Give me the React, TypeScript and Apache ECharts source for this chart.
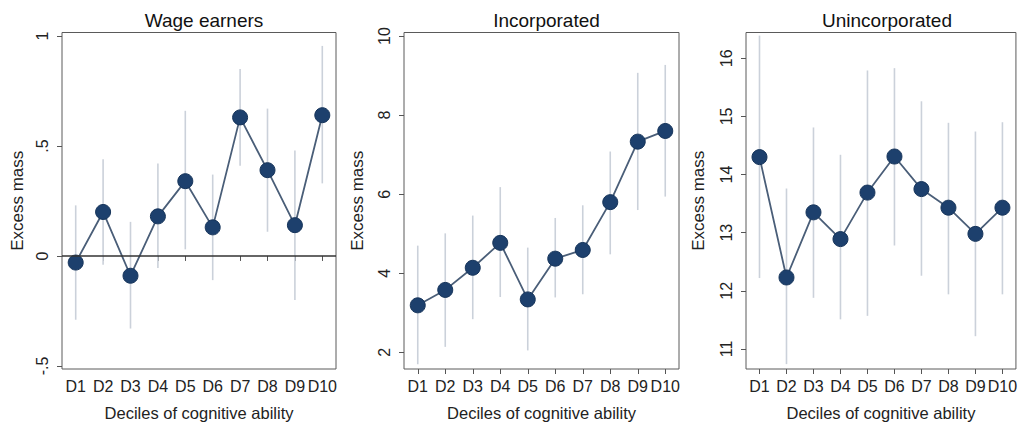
import React, { useEffect, useRef } from "react";
import * as echarts from "echarts";

const deciles = ["D1", "D2", "D3", "D4", "D5", "D6", "D7", "D8", "D9", "D10"];

const panelTitles = ["Wage earners", "Incorporated", "Unincorporated"];

const wageValues = [-0.03, 0.2, -0.09, 0.18, 0.34, 0.13, 0.63, 0.39, 0.14, 0.64];
const wageLow = [-0.29, -0.04, -0.33, -0.055, 0.03, -0.11, 0.41, 0.11, -0.2, 0.33];
const wageHigh = [0.23, 0.44, 0.155, 0.42, 0.66, 0.37, 0.85, 0.67, 0.48, 0.955];
const wageTicks = [-0.5, 0, 0.5, 1];

const incValues = [3.19, 3.58, 4.14, 4.77, 3.34, 4.37, 4.59, 5.8, 7.33, 7.6];
const incLow = [1.7, 2.14, 2.84, 3.4, 2.05, 3.39, 3.47, 4.48, 5.6, 5.94];
const incHigh = [4.7, 5.01, 5.46, 6.18, 4.65, 5.4, 5.72, 7.08, 9.07, 9.27];
const incTicks = [2, 4, 6, 8, 10];

const unincValues = [14.3, 12.23, 13.35, 12.89, 13.69, 14.31, 13.75, 13.43, 12.98, 13.43];
const unincLow = [12.22, 10.74, 11.88, 11.51, 11.57, 12.78, 12.26, 11.94, 11.22, 11.94];
const unincHigh = [16.39, 13.76, 14.81, 14.34, 15.79, 15.83, 15.26, 14.89, 14.74, 14.9];
const unincTicks = [11, 12, 13, 14, 15, 16];

const yAxisTitle = "Excess mass";
const xAxisTitle = "Deciles of cognitive ability";

const FONT = "'Liberation Sans', Arial, Helvetica, sans-serif";

function fmtTick(v: number): string {
  if (v === 0) return "0";
  const s = String(v);
  if (s.startsWith("0.")) return s.slice(1);
  if (s.startsWith("-0.")) return "-" + s.slice(2);
  return s;
}

export default function App() {
  const ref = useRef<HTMLDivElement>(null);

  useEffect(() => {
    if (!ref.current) return;
    const chart = echarts.init(ref.current, null, { renderer: "svg" });

    const panels = [
      { values: wageValues, low: wageLow, high: wageHigh, ticks: wageTicks, min: -0.514, max: 1.016, left: 62, width: 274, nameGap: 36, zero: true },
      { values: incValues, low: incLow, high: incHigh, ticks: incTicks, min: 1.58, max: 10.09, left: 404, width: 275, nameGap: 38, zero: false },
      { values: unincValues, low: unincLow, high: unincHigh, ticks: unincTicks, min: 10.656, max: 16.443, left: 746, width: 272, nameGap: 39, zero: false },
    ];

    const grids = panels.map((p) => ({
      left: p.left,
      top: 32.5,
      width: p.width,
      height: 337,
      show: true,
      borderColor: "#5a5a5a",
      borderWidth: 1,
      backgroundColor: "transparent",
    }));

    const xAxes = panels.map((p, i) => ({
      type: "category",
      gridIndex: i,
      data: deciles,
      boundaryGap: true,
      axisLine: { show: false },
      axisTick: { show: true, alignWithLabel: true, length: 5, lineStyle: { color: "#555", width: 1 } },
      axisLabel: { fontSize: 16, color: "#222", margin: 9, fontFamily: FONT, interval: 0 },
      splitLine: { show: false },
      name: xAxisTitle,
      nameLocation: "middle",
      nameGap: 35,
      nameTextStyle: { fontSize: 16.5, color: "#222", fontFamily: FONT },
    }));

    const yAxes = panels.map((p, i) => ({
      type: "value",
      gridIndex: i,
      min: p.min,
      max: p.max,
      axisLine: { show: false },
      axisTick: { show: true, length: 5, customValues: p.ticks, lineStyle: { color: "#555", width: 1 } },
      axisLabel: {
        customValues: p.ticks,
        rotate: 90,
        fontSize: 16,
        color: "#222",
        margin: 12,
        fontFamily: FONT,
        formatter: (v: number) => fmtTick(v),
      },
      splitLine: { show: false },
      name: yAxisTitle,
      nameLocation: "middle",
      nameGap: p.nameGap,
      nameRotate: 90,
      nameTextStyle: { fontSize: 17, color: "#222", fontFamily: FONT },
    }));

    const series: any[] = [];
    panels.forEach((p, i) => {
      const errSeries: any = {
        type: "custom",
        xAxisIndex: i,
        yAxisIndex: i,
        z: 1,
        silent: true,
        encode: { x: 0, y: [1, 2] },
        data: deciles.map((_, k) => [k, p.low[k], p.high[k]]),
        renderItem: (params: any, api: any) => {
          const x = api.value(0);
          const a = api.coord([x, api.value(1)]);
          const b = api.coord([x, api.value(2)]);
          return {
            type: "line",
            shape: { x1: a[0], y1: a[1], x2: b[0], y2: b[1] },
            style: { stroke: "#cbd1da", lineWidth: 1.6 },
          };
        },
      };
      if (p.zero) {
        errSeries.markLine = {
          silent: true,
          symbol: "none",
          label: { show: false },
          lineStyle: { color: "#333", width: 1.6, type: "solid" },
          data: [{ yAxis: 0 }],
        };
      }
      series.push(errSeries);
      series.push({
        type: "line",
        xAxisIndex: i,
        yAxisIndex: i,
        z: 3,
        data: p.values,
        symbol: "circle",
        symbolSize: 15,
        lineStyle: { color: "#4a5e78", width: 1.8 },
        itemStyle: { color: "#1d406d", borderColor: "#16345a", borderWidth: 1 },
      });
    });

    chart.setOption({
      animation: false,
      textStyle: { fontFamily: FONT },
      title: panels.map((p, i) => ({
        text: panelTitles[i],
        left: p.left + p.width / 2,
        top: 6,
        textAlign: "center",
        textStyle: { fontSize: 19, fontWeight: "normal", color: "#111", fontFamily: FONT },
      })),
      grid: grids,
      xAxis: xAxes,
      yAxis: yAxes,
      series,
    });

    return () => chart.dispose();
  }, []);

  return (
    <div
      ref={ref}
      style={{ position: "absolute", left: 0, top: 0, width: 1020, height: 426, background: "#fff" }}
    />
  );
}
